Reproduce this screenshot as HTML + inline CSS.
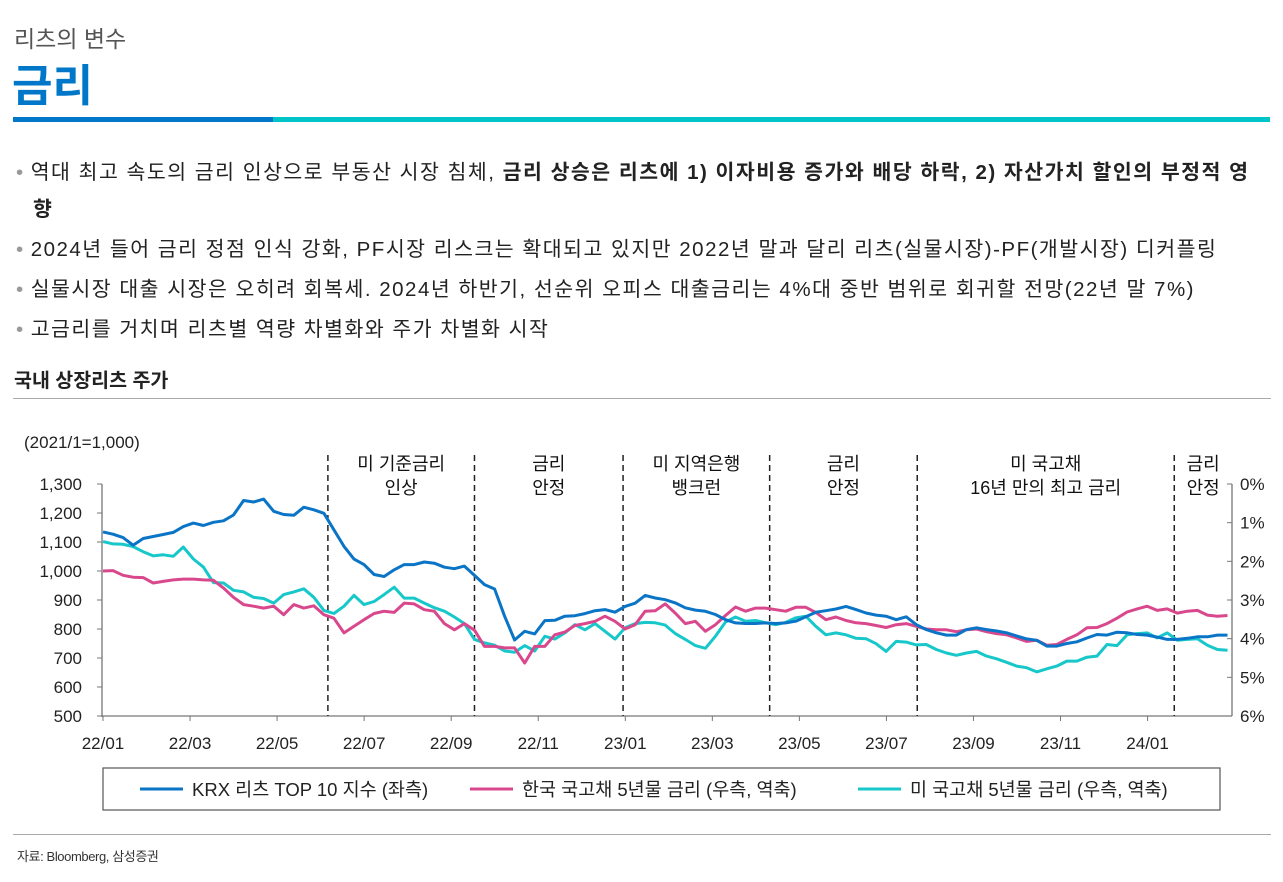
<!DOCTYPE html>
<html><head><meta charset="utf-8">
<style>
body{margin:0;background:#fff;width:1283px;height:882px;overflow:hidden;position:relative;font-family:"Liberation Sans","Noto Sans CJK KR",sans-serif;color:#222}
.abs{position:absolute;white-space:nowrap}
.b{font-weight:bold}
.bul{position:absolute;left:16px;font-size:20.5px;color:#222;letter-spacing:1.5px;white-space:nowrap}
.bul:before{content:"•";color:#999;margin-right:6px}
</style></head><body>
<div class="abs" style="left:14px;top:20px;font-size:23px;color:#555">리츠의 변수</div>
<div class="abs b" style="left:12px;top:50px;font-size:44px;color:#0077c8">금리</div>
<div class="abs" style="left:13px;top:117px;width:260px;height:5px;background:#0077c8"></div>
<div class="abs" style="left:273px;top:117px;width:997px;height:5px;background:#00c4c8"></div>
<div class="bul" style="top:155px">역대 최고 속도의 금리 인상으로 부동산 시장 침체, <b>금리 상승은 리츠에 1) 이자비용 증가와 배당 하락, 2) 자산가치 할인의 부정적 영</b></div>
<div class="abs b" style="left:33px;top:192px;font-size:20.5px">향</div>
<div class="bul" style="top:232px">2024년 들어 금리 정점 인식 강화, PF시장 리스크는 확대되고 있지만 2022년 말과 달리 리츠(실물시장)-PF(개발시장) 디커플링</div>
<div class="bul" style="top:272px">실물시장 대출 시장은 오히려 회복세. 2024년 하반기, 선순위 오피스 대출금리는 4%대 중반 범위로 회귀할 전망(22년 말 7%)</div>
<div class="bul" style="top:312px">고금리를 거치며 리츠별 역량 차별화와 주가 차별화 시작</div>
<div class="abs b" style="left:14px;top:364px;font-size:19.5px">국내 상장리츠 주가</div>
<div class="abs" style="left:13px;top:398px;width:1258px;height:1px;background:#aaa"></div>
<div class="abs" style="left:13px;top:834px;width:1258px;height:1px;background:#aaa"></div>
<div class="abs" style="left:17px;top:846px;font-size:13px;color:#333;letter-spacing:-0.4px">자료: Bloomberg, 삼성증권</div>

<svg id="chart" width="1283" height="882" style="position:absolute;left:0;top:0" font-family="Liberation Sans, Noto Sans CJK KR, sans-serif"></svg>
<script>
const xLabels=["22/01","22/03","22/05","22/07","22/09","22/11","23/01","23/03","23/05","23/07","23/09","23/11","24/01"];
const leftTicks=[500,600,700,800,900,1000,1100,1200,1300];
const rightTicks=[0,1,2,3,4,5,6];
const krx=[1135,1127,1115,1089,1112,1119,1126,1133,1153,1165,1157,1168,1173,1193,1243,1238,1248,1206,1195,1192,1220,1211,1199,1142,1085,1041,1022,988,981,1004,1022,1022,1031,1027,1013,1008,1017,985,953,938,844,762,792,783,829,830,844,846,853,863,867,858,878,889,916,907,901,890,873,865,861,850,832,821,819,819,821,819,821,827,842,858,863,869,878,867,855,848,844,832,842,815,798,787,779,779,798,804,798,793,787,776,766,761,741,741,750,756,769,781,779,789,787,781,779,772,764,764,768,773,773,779,779];
const korea=[2.25,2.24,2.36,2.41,2.42,2.56,2.52,2.48,2.46,2.46,2.48,2.49,2.69,2.93,3.12,3.16,3.21,3.16,3.38,3.12,3.21,3.15,3.38,3.47,3.85,3.68,3.51,3.35,3.29,3.32,3.08,3.10,3.25,3.29,3.61,3.77,3.61,3.78,4.20,4.20,4.24,4.24,4.63,4.20,4.20,3.90,3.83,3.66,3.61,3.55,3.42,3.55,3.75,3.64,3.29,3.28,3.10,3.34,3.61,3.55,3.81,3.64,3.40,3.18,3.29,3.21,3.21,3.25,3.29,3.19,3.19,3.32,3.51,3.44,3.53,3.59,3.61,3.66,3.71,3.64,3.61,3.68,3.75,3.77,3.77,3.82,3.77,3.75,3.82,3.87,3.90,3.98,4.07,4.04,4.17,4.15,4.02,3.90,3.72,3.71,3.61,3.47,3.31,3.23,3.16,3.27,3.23,3.34,3.29,3.27,3.39,3.42,3.40];
const us=[1.49,1.55,1.56,1.62,1.75,1.86,1.83,1.87,1.63,1.94,2.15,2.55,2.56,2.75,2.79,2.93,2.96,3.08,2.86,2.79,2.71,2.93,3.27,3.35,3.16,2.88,3.12,3.04,2.86,2.67,2.95,2.95,3.08,3.20,3.29,3.44,3.61,4.02,4.11,4.17,4.32,4.35,4.18,4.32,3.94,4.01,3.85,3.64,3.77,3.61,3.81,4.01,3.72,3.61,3.58,3.59,3.65,3.87,4.02,4.18,4.25,3.94,3.57,3.44,3.55,3.53,3.59,3.64,3.58,3.46,3.42,3.68,3.90,3.85,3.90,3.99,4.00,4.13,4.33,4.07,4.09,4.16,4.15,4.28,4.37,4.43,4.37,4.33,4.45,4.52,4.61,4.71,4.75,4.86,4.78,4.71,4.58,4.58,4.48,4.45,4.15,4.18,3.90,3.87,3.85,3.98,3.85,4.04,4.02,4.00,4.17,4.28,4.30];
const events=[{w:22.4,l:["미 기준금리","인상"]},{w:37.0,l:["금리","안정"]},{w:51.8,l:["미 지역은행","뱅크런"]},{w:66.4,l:["금리","안정"]},{w:81.1,l:["미 국고채","16년 만의 최고 금리"]},{w:106.7,l:["금리","안정"]}];

const svg=document.getElementById('chart');
const NS="http://www.w3.org/2000/svg";
const X0=103,WK=10.04,YT=484,YB=716;
const xw=i=>X0+i*WK;
const yL=v=>YB-(v-500)/800*(YB-YT);
const yR=r=>YT+r/6*(YB-YT);
function mk(tag,attrs,txt){const e=document.createElementNS(NS,tag);for(const k in attrs)e.setAttribute(k,attrs[k]);if(txt!=null)e.textContent=txt;svg.appendChild(e);return e;}

let t=mk('text',{x:24,y:448,'font-size':17,fill:'#222'},'(2021/1=1,000)');


let a=mk('line',{x1:102,y1:YT,x2:102,y2:YB+1,stroke:'#777','stroke-width':1.3});


a=mk('line',{x1:102,y1:YB,x2:1232,y2:YB,stroke:'#777','stroke-width':1.3});


a=mk('line',{x1:1232,y1:YT,x2:1232,y2:YB,stroke:'#777','stroke-width':1.3});


leftTicks.forEach(v=>{
  const y=yL(v);
  mk('line',{x1:97,y1:y,x2:102,y2:y,stroke:'#777'});
  const e=mk('text',{x:82,y:y+6,'font-size':17,'text-anchor':'end',fill:'#222'},v.toLocaleString('en-US'));
  
  
});
rightTicks.forEach(r=>{
  const y=yR(r);
  mk('line',{x1:1227,y1:y,x2:1232,y2:y,stroke:'#777'});
  const e=mk('text',{x:1240,y:y+6,'font-size':17,fill:'#222'},r+'%');
  
  
});
xLabels.forEach((s,k)=>{
  const x=xw(k*8.67);
  mk('line',{x1:x,y1:YB,x2:x,y2:YB+5,stroke:'#777'});
  const e=mk('text',{x:x,y:749,'font-size':17,'text-anchor':'middle',fill:'#222'},s);
  
  
});
events.forEach((ev,k)=>{
  const x=xw(ev.w);
  const l=mk('line',{x1:x,y1:455,x2:x,y2:YB,stroke:'#222','stroke-width':1.5,'stroke-dasharray':'6,4'});
  
  
  const nx=k+1<events.length?xw(events[k+1].w):1232;
  const cx=(x+nx)/2;
  ev.l.forEach((s,j)=>{
    const e=mk('text',{x:cx,y:470+j*24,'font-size':18,'text-anchor':'middle',fill:'#111'},s);
    
    
  });
});
function series(arr,fy,color,name){
  const d=arr.map((v,i)=>(i?'L':'M')+xw(i).toFixed(1)+','+fy(v).toFixed(1)).join('');
  const p=mk('path',{d:d,fill:'none',stroke:color,'stroke-width':3,'stroke-linejoin':'round'});
  
  
}
series(us,yR,'#17c7c9','us-5y-yield-line');
series(korea,yR,'#d9488c','korea-5y-yield-line');
series(krx,yL,'#0a74c6','krx-reits-top10-line');
let box=mk('rect',{x:103,y:768,width:1117,height:42,fill:'#fff',stroke:'#555','stroke-width':1.2});


[[140,'#0a74c6','KRX 리츠 TOP 10 지수 (좌측)'],[470,'#d9488c','한국 국고채 5년물 금리 (우측, 역축)'],[858,'#17c7c9','미 국고채 5년물 금리 (우측, 역축)']].forEach(([x,c,s])=>{
  mk('line',{x1:x,y1:789,x2:x+43,y2:789,stroke:c,'stroke-width':3});
  const e=mk('text',{x:x+52,y:796,'font-size':18.5,fill:'#222'},s);
  
  
});
</script>
</body></html>
